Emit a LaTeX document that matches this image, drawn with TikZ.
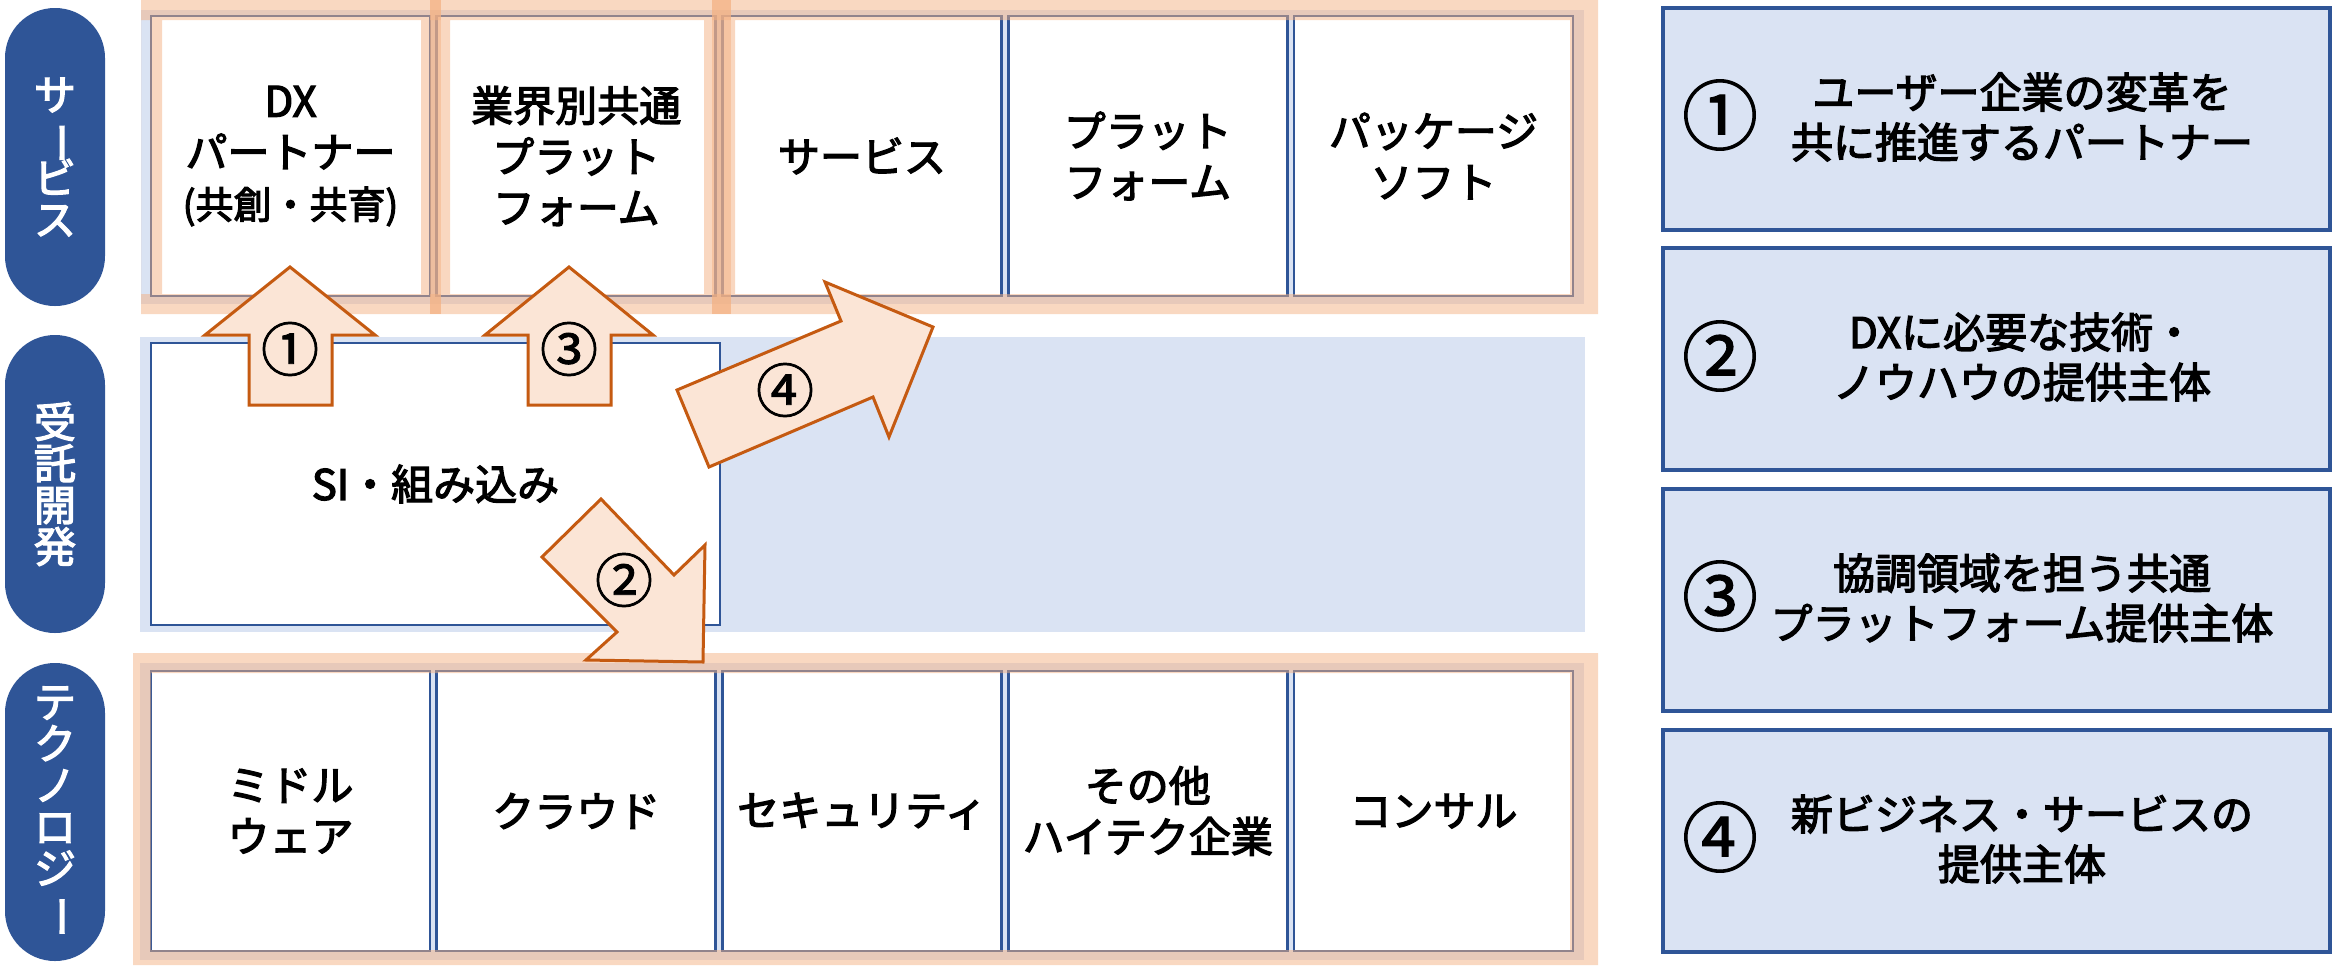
\documentclass[tikz,border=0pt]{standalone}
\usepackage{fontspec}
\usepackage{graphicx}
\newfontfamily\jp[FakeBold=3]{Noto Sans CJK JP}
\newfontfamily\jpnum[FakeBold=1.5]{Noto Sans CJK JP}
\definecolor{pillblue}{HTML}{2F5597}
\definecolor{bgblue}{HTML}{DAE3F3}
\definecolor{hl}{HTML}{F4B183}
\definecolor{arrfill}{HTML}{FBE5D6}
\definecolor{arrline}{HTML}{C55A11}
\newcommand{\vbar}{\rotatebox[origin=c]{-90}{ー}}
\newcommand{\smallline}[1]{{\fontsize{19pt}{25.5pt}\selectfont #1}}
\begin{document}
\setlength{\lineskiplimit}{-100pt}
\begin{tikzpicture}[x=0.5pt,y=-0.5pt,
  every node/.style={font=\jp\fontsize{21pt}{25.5pt}\selectfont},
  bgrect/.style={fill=bgblue},
  cell/.style={draw=pillblue, line width=1.4pt, fill=white, minimum width=139.5pt, minimum height=140pt, inner sep=0pt, align=center},
  pill/.style={fill=pillblue, rounded corners=24.9pt, minimum width=50pt, minimum height=149pt, inner sep=0pt, text=white, align=center, font=\jp\fontsize{21pt}{20.8pt}\selectfont},
  rbox/.style={draw=pillblue, line width=2pt, fill=bgblue, minimum width=333.5pt, minimum height=111pt},
  hlband/.style={fill=hl, fill opacity=0.5},
  hlstripe/.style={fill=hl, fill opacity=0.75},
  blockarrow/.style={draw=arrline, fill=arrfill, line width=1.5pt, line join=miter},
  num/.style={font=\jpnum\fontsize{29pt}{29pt}\selectfont, inner sep=0pt},
  bignum/.style={font=\jpnum\fontsize{38pt}{38pt}\selectfont, inner sep=0pt},
  desc/.style={align=center, inner sep=0pt, font=\jp\fontsize{21pt}{25pt}\selectfont}
]
\useasboundingbox (0,0) rectangle (2336,965);

% row backgrounds
\fill[bgrect] (141,10) rectangle (1584,304);
\fill[bgrect] (140,337) rectangle (1585,632);
\fill[bgrect] (140,663) rectangle (1584,960);

% service row cells
\node[cell] (s1) at (290.5,156) {DX\\パートナー\\\smallline{(共創・共育)}};
\node[cell] (s2) at (576.25,156) {業界別共通\\プラット\\フォーム};
\node[cell] (s3) at (862,156) {サービス};
\node[cell] (s4) at (1147.75,156) {プラット\\フォーム};
\node[cell] (s5) at (1433.5,156) {パッケージ\\ソフト};

% technology row cells
\node[cell] (t1) at (290.5,811) {ミドル\\ウェア};
\node[cell] (t2) at (576.25,811) {クラウド};
\node[cell] (t3) at (862,811) {セキュリティ};
\node[cell] (t4) at (1147.75,811) {その他\\ハイテク企業};
\node[cell] (t5) at (1433.5,811) {コンサル};

% orange highlights
\fill[hlband, even odd rule] (141,0) rectangle (1598,314) (162,20) rectangle (1570,294)
  (141,20) rectangle (150,294) (421,20) rectangle (430,294) (441,20) rectangle (450,294)
  (704,20) rectangle (712,294) (731,20) rectangle (735,294);
\fill[hlstripe] (430,0) rectangle (441,314);
\fill[hlstripe] (712,0) rectangle (731,314);
\fill[hlband, even odd rule] (133,653) rectangle (1598,965) (151,673) rectangle (1570,950);

% middle row box
\node[cell, minimum width=284.5pt, minimum height=141pt] (si) at (435.5,484) {SI・組み込み};

% left pills
\node[pill] (p1) at (55,157) {サ\\\vbar\\ビ\\ス};
\node[pill] (p2) at (55,484) {受\\託\\開\\発};
\node[pill] (p3) at (55,812) {テ\\ク\\ノ\\ロ\\ジ\\\vbar};

% right boxes
\node[rbox] (r1) at (1996.5,119) {};
\node[rbox] (r2) at (1996.5,359) {};
\node[rbox] (r3) at (1996.5,600) {};
\node[rbox] (r4) at (1996.5,841) {};
\node[bignum] (rn1) at (1720,115) {①};
\node[bignum] (rn2) at (1720,356) {②};
\node[bignum] (rn3) at (1720,596) {③};
\node[bignum] (rn4) at (1720,837) {④};
\node[desc] (rt1) at (2022,117) {ユーザー企業の変革を\\共に推進するパートナー};
\node[desc] (rt2) at (2022,357) {DXに必要な技術・\\ノウハウの提供主体};
\node[desc] (rt3) at (2022,598) {協調領域を担う共通\\プラットフォーム提供主体};
\node[desc] (rt4) at (2022,839) {新ビジネス・サービスの\\提供主体};

% block arrows
\draw[blockarrow] (249,405) -- (249,335) -- (205,335) -- (290,267) -- (375,335) -- (332,335) -- (332,405) -- cycle;
\node[num] (a1) at (290,349) {①};
\draw[blockarrow] (528,405) -- (528,335) -- (485,335) -- (569,267) -- (653,335) -- (611,335) -- (611,405) -- cycle;
\node[num] (a3) at (569,349) {③};
\draw[blockarrow] (601,499) -- (674,575) -- (705,545) -- (703,662) -- (586,660) -- (617,632) -- (542,557) -- cycle;
\node[num] (a2) at (624,580) {②};
\draw[blockarrow] (677,390) -- (841,321) -- (825,282) -- (933,327) -- (889,437) -- (873,397) -- (709,467) -- cycle;
\node[num] (a4) at (785,390) {④};
\end{tikzpicture}
\end{document}
